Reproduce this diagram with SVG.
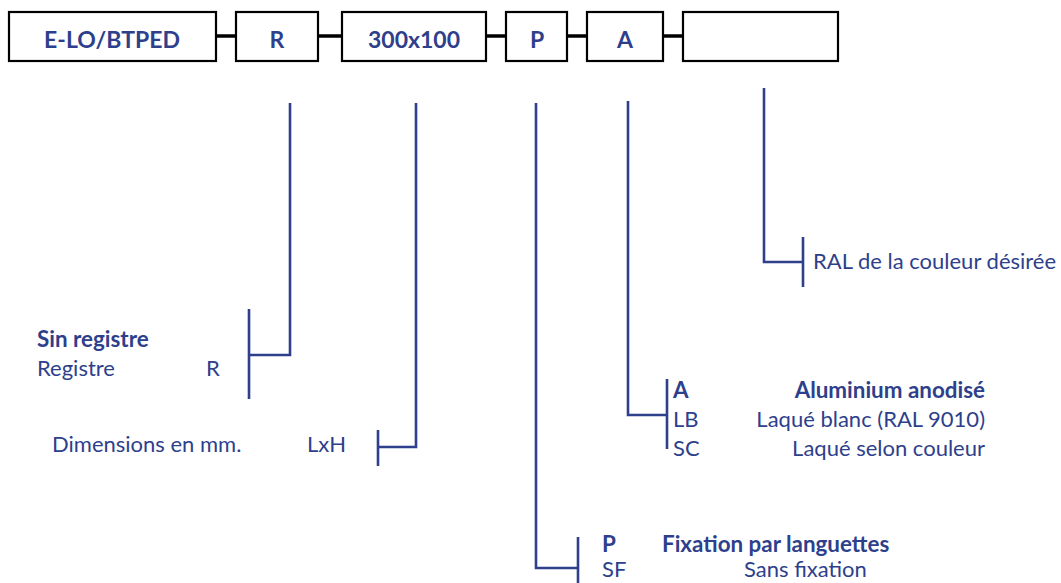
<svg xmlns="http://www.w3.org/2000/svg" width="1061" height="583" viewBox="0 0 1061 583">
<style>
.box{fill:#fff;stroke:#000;stroke-width:2.2}
.bt{font-family:Lato,"Liberation Sans",sans-serif;font-weight:bold;font-size:23px;fill:#2E3F8C;text-anchor:middle}
.t{font-family:Lato,"Liberation Sans",sans-serif;font-size:22px;fill:#2E3F8C}
.b{font-weight:bold;font-size:22.4px}
.e{text-anchor:end}
.lk{fill:none;stroke:#000;stroke-width:3.5}
.ln{fill:none;stroke:#2E3F8C;stroke-width:2.6}
</style>
<rect width="1061" height="583" fill="#fff"/>
<g id="connectors">
<line class="lk" x1="216" y1="36" x2="236" y2="36"/>
<line class="lk" x1="318" y1="36" x2="342" y2="36"/>
<line class="lk" x1="486" y1="36" x2="506" y2="36"/>
<line class="lk" x1="567" y1="36" x2="587" y2="36"/>
<line class="lk" x1="663" y1="36" x2="683" y2="36"/>
<polyline class="ln" points="290,103 290,355 249,355"/>
<line class="ln" x1="249" y1="309" x2="249" y2="399"/>
<polyline class="ln" points="416,103 416,447 378,447"/>
<line class="ln" x1="378" y1="430" x2="378" y2="466"/>
<polyline class="ln" points="536,103 536,568 578,568"/>
<line class="ln" x1="578" y1="537" x2="578" y2="583"/>
<polyline class="ln" points="628,101 628,415 667,415"/>
<line class="ln" x1="667" y1="379" x2="667" y2="449"/>
<polyline class="ln" points="764,88 764,262 803,262"/>
<line class="ln" x1="803" y1="237" x2="803" y2="287"/>
</g>
<g id="n-elo"><rect class="box" x="9" y="12" width="207" height="49"/><text class="bt" x="112" y="48">E-LO/BTPED</text></g>
<g id="n-r"><rect class="box" x="236" y="12" width="82" height="49"/><text class="bt" x="277" y="48">R</text></g>
<g id="n-dim"><rect class="box" x="342" y="12" width="144" height="49"/><text class="bt" x="414" y="48">300x100</text></g>
<g id="n-p"><rect class="box" x="506" y="12" width="61" height="49"/><text class="bt" x="537" y="48">P</text></g>
<g id="n-a"><rect class="box" x="587" y="12" width="76" height="49"/><text class="bt" x="625" y="48">A</text></g>
<g id="n-ral"><rect class="box" x="683" y="12" width="155" height="49"/></g>
<g id="opt-r">
<text class="t b" x="37" y="347">Sin registre</text>
<text class="t" x="37" y="376">Registre</text>
<text class="t" x="206" y="376">R</text>
</g>
<g id="opt-dim">
<text class="t" x="52" y="452">Dimensions en mm.</text>
<text class="t" x="307" y="452">LxH</text>
</g>
<g id="opt-a">
<text class="t b" x="673" y="398">A</text>
<text class="t b e" x="985" y="398">Aluminium anodisé</text>
<text class="t" x="673" y="427">LB</text>
<text class="t e" x="985" y="427">Laqué blanc (RAL 9010)</text>
<text class="t" x="673" y="456">SC</text>
<text class="t e" x="985" y="456">Laqué selon couleur</text>
</g>
<g id="opt-p">
<text class="t b" x="602" y="552">P</text>
<text class="t b" x="662" y="552">Fixation par languettes</text>
<text class="t" x="602" y="577">SF</text>
<text class="t" x="744" y="577">Sans fixation</text>
</g>
<g id="opt-ral">
<text class="t" x="813" y="269">RAL de la couleur désirée</text>
</g>
</svg>
